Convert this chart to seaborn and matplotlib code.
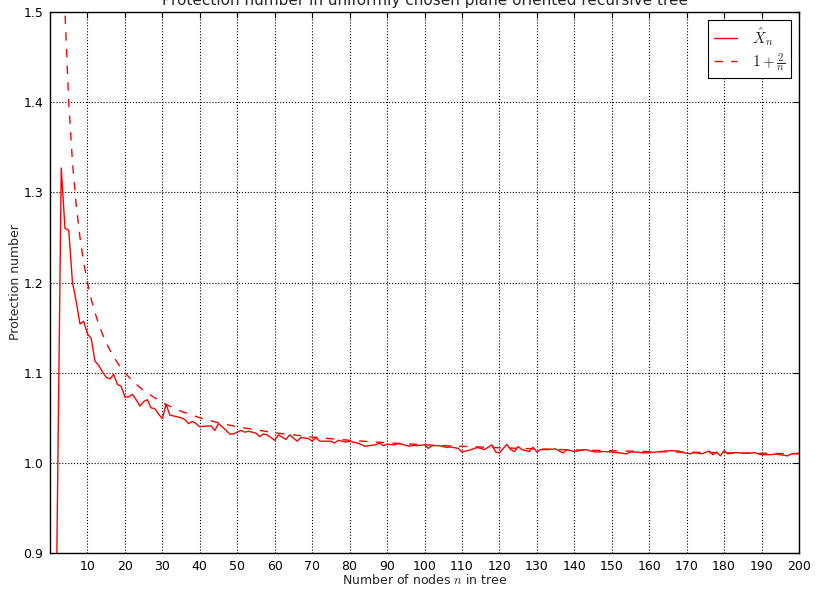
import matplotlib
matplotlib.use("Agg")
import matplotlib.pyplot as plt
import seaborn as sns
import pandas as pd

# ---- data ----
n_sim = [1, 2, 3, 4, 5, 6, 7, 8, 9, 10, 11, 12, 13, 14, 15, 16, 17, 18, 19, 20,
         21, 22, 23, 24, 25, 26, 27, 28, 29, 30, 31, 32, 35, 36, 37, 38, 39, 40,
         41, 43, 44, 45, 46, 48, 49, 50, 51, 52, 53, 55, 56, 57, 58, 60, 61, 63,
         64, 66, 67, 69, 70, 71, 72, 73, 75, 76, 77, 79, 80, 82, 83, 84, 86, 87,
         88, 89, 90, 92, 93, 94, 96, 97, 98, 100, 101, 102, 104, 106, 107, 109,
         110, 111, 112, 114, 115, 116, 118, 119, 120, 122, 123, 124, 125, 126,
         128, 129, 130, 131, 133, 135, 137, 138, 140, 141, 143, 145, 146, 148,
         150, 152, 154, 155, 157, 158, 160, 162, 164, 166, 168, 169, 171, 172,
         174, 176, 177, 178, 179, 180, 181, 183, 185, 187, 188, 190, 192, 194,
         195, 197, 198, 200]
x_hat = [0.600, 0.965, 1.327, 1.260, 1.258, 1.200, 1.179, 1.154, 1.157, 1.143,
         1.138, 1.113, 1.108, 1.101, 1.095, 1.093, 1.098, 1.087, 1.085, 1.073,
         1.073, 1.076, 1.070, 1.063, 1.068, 1.070, 1.061, 1.060, 1.054, 1.049,
         1.065, 1.053, 1.050, 1.048, 1.0435, 1.046, 1.0435, 1.040,
         1.0405, 1.041, 1.036, 1.0435, 1.040, 1.032, 1.032, 1.034, 1.036, 1.034,
         1.035, 1.033, 1.029, 1.032, 1.031, 1.025, 1.031, 1.026,
         1.031, 1.024, 1.028, 1.027, 1.024, 1.028, 1.024, 1.024, 1.024, 1.022,
         1.025, 1.023, 1.024, 1.022, 1.0206, 1.0184, 1.0195, 1.020,
         1.022, 1.019, 1.0206, 1.020, 1.0214, 1.0206, 1.0184, 1.0195, 1.019,
         1.020, 1.016, 1.019, 1.019, 1.017, 1.0177, 1.016,
         1.012, 1.013, 1.014, 1.017, 1.016, 1.0147, 1.020, 1.012, 1.011, 1.0206,
         1.0147, 1.0125, 1.018, 1.0147,
         1.0125, 1.0173, 1.012, 1.0147, 1.0147, 1.0155, 1.011, 1.0147, 1.0125,
         1.0133, 1.0147, 1.0125, 1.012, 1.0125,
         1.012, 1.011, 1.010, 1.012, 1.012, 1.011, 1.0114, 1.012, 1.013, 1.0136,
         1.013, 1.0114, 1.010, 1.0114,
         1.010, 1.013, 1.009, 1.012, 1.0077, 1.0136, 1.010, 1.0114, 1.0107,
         1.0107, 1.0114, 1.009, 1.009, 1.0096,
         1.009, 1.0077, 1.010, 1.0107]

n_ref = [3, 4, 5, 6, 7, 8, 9, 10, 11, 12, 13, 14, 15, 16, 17, 18, 19, 20,
         22, 25, 30, 35, 40, 45, 50, 60, 70, 80, 90, 100, 120, 140, 160, 180, 200]
ref_vals = [1.6667, 1.5, 1.4, 1.3333, 1.2857, 1.25, 1.2222, 1.2, 1.1818, 1.1667,
            1.1538, 1.1429, 1.1333, 1.125, 1.1176, 1.1111, 1.1053, 1.1,
            1.0909, 1.08, 1.0667, 1.0571, 1.05, 1.0444, 1.04, 1.0333, 1.0286,
            1.025, 1.0222, 1.02, 1.0167, 1.0143, 1.0125, 1.0111, 1.01]

x_ticks = list(range(10, 201, 10))
y_ticks = [0.9, 1.0, 1.1, 1.2, 1.3, 1.4, 1.5]

title = "Protection number in uniformly chosen plane oriented recursive tree"
xlabel = r"Number of nodes $n$ in tree"
ylabel = "Protection number"
labels = [r"$\hat{X}_n$", r"$1+\frac{2}{n}$"]

# ---- style ----
sns.set_style("white")
plt.rcParams["font.family"] = ["DejaVu Sans"]
plt.rcParams["mathtext.fontset"] = "cm"
plt.rcParams["xtick.direction"] = "in"
plt.rcParams["ytick.direction"] = "in"

df_sim = pd.DataFrame({"n": n_sim, "v": x_hat})
df_ref = pd.DataFrame({"n": n_ref, "v": ref_vals})

fig = plt.figure(figsize=(8.16, 5.89), dpi=100)
ax = fig.add_axes([50 / 816, 1 - 553 / 589, (799 - 50) / 816, (553 - 12) / 589])

sns.lineplot(data=df_sim, x="n", y="v", color="red", lw=1.0, ax=ax, label=labels[0])
sns.lineplot(data=df_ref, x="n", y="v", color="red", lw=1.0, ax=ax, label=labels[1])
ax.lines[1].set_dashes([6, 6])

ax.set_xlim(0, 200)
ax.set_ylim(0.9, 1.5)
ax.set_xticks(x_ticks)
ax.set_yticks(y_ticks)
ax.set_yticklabels([f"{t:.1f}" for t in y_ticks])
ax.tick_params(axis="both", which="both", direction="in", length=4, width=0.8,
               top=True, right=True, labelsize=9, colors="black", pad=5)
ax.grid(True, color="black", linestyle=":", linewidth=0.8)
for s in ax.spines.values():
    s.set_visible(True)
    s.set_color("black")
    s.set_linewidth(1.0)

ax.set_title(title, fontsize=11, pad=5)
ax.set_xlabel(xlabel, fontsize=9, labelpad=0)
ax.set_ylabel(ylabel, fontsize=9, labelpad=1)

leg = ax.legend(loc="upper right", fontsize=11, fancybox=False, framealpha=1,
                edgecolor="black", handlelength=1.5, handletextpad=1.0,
                labelspacing=0.2, borderpad=0.35, borderaxespad=0.55)
leg.get_frame().set_linewidth(0.8)

fig.savefig("out.png", dpi=100)
